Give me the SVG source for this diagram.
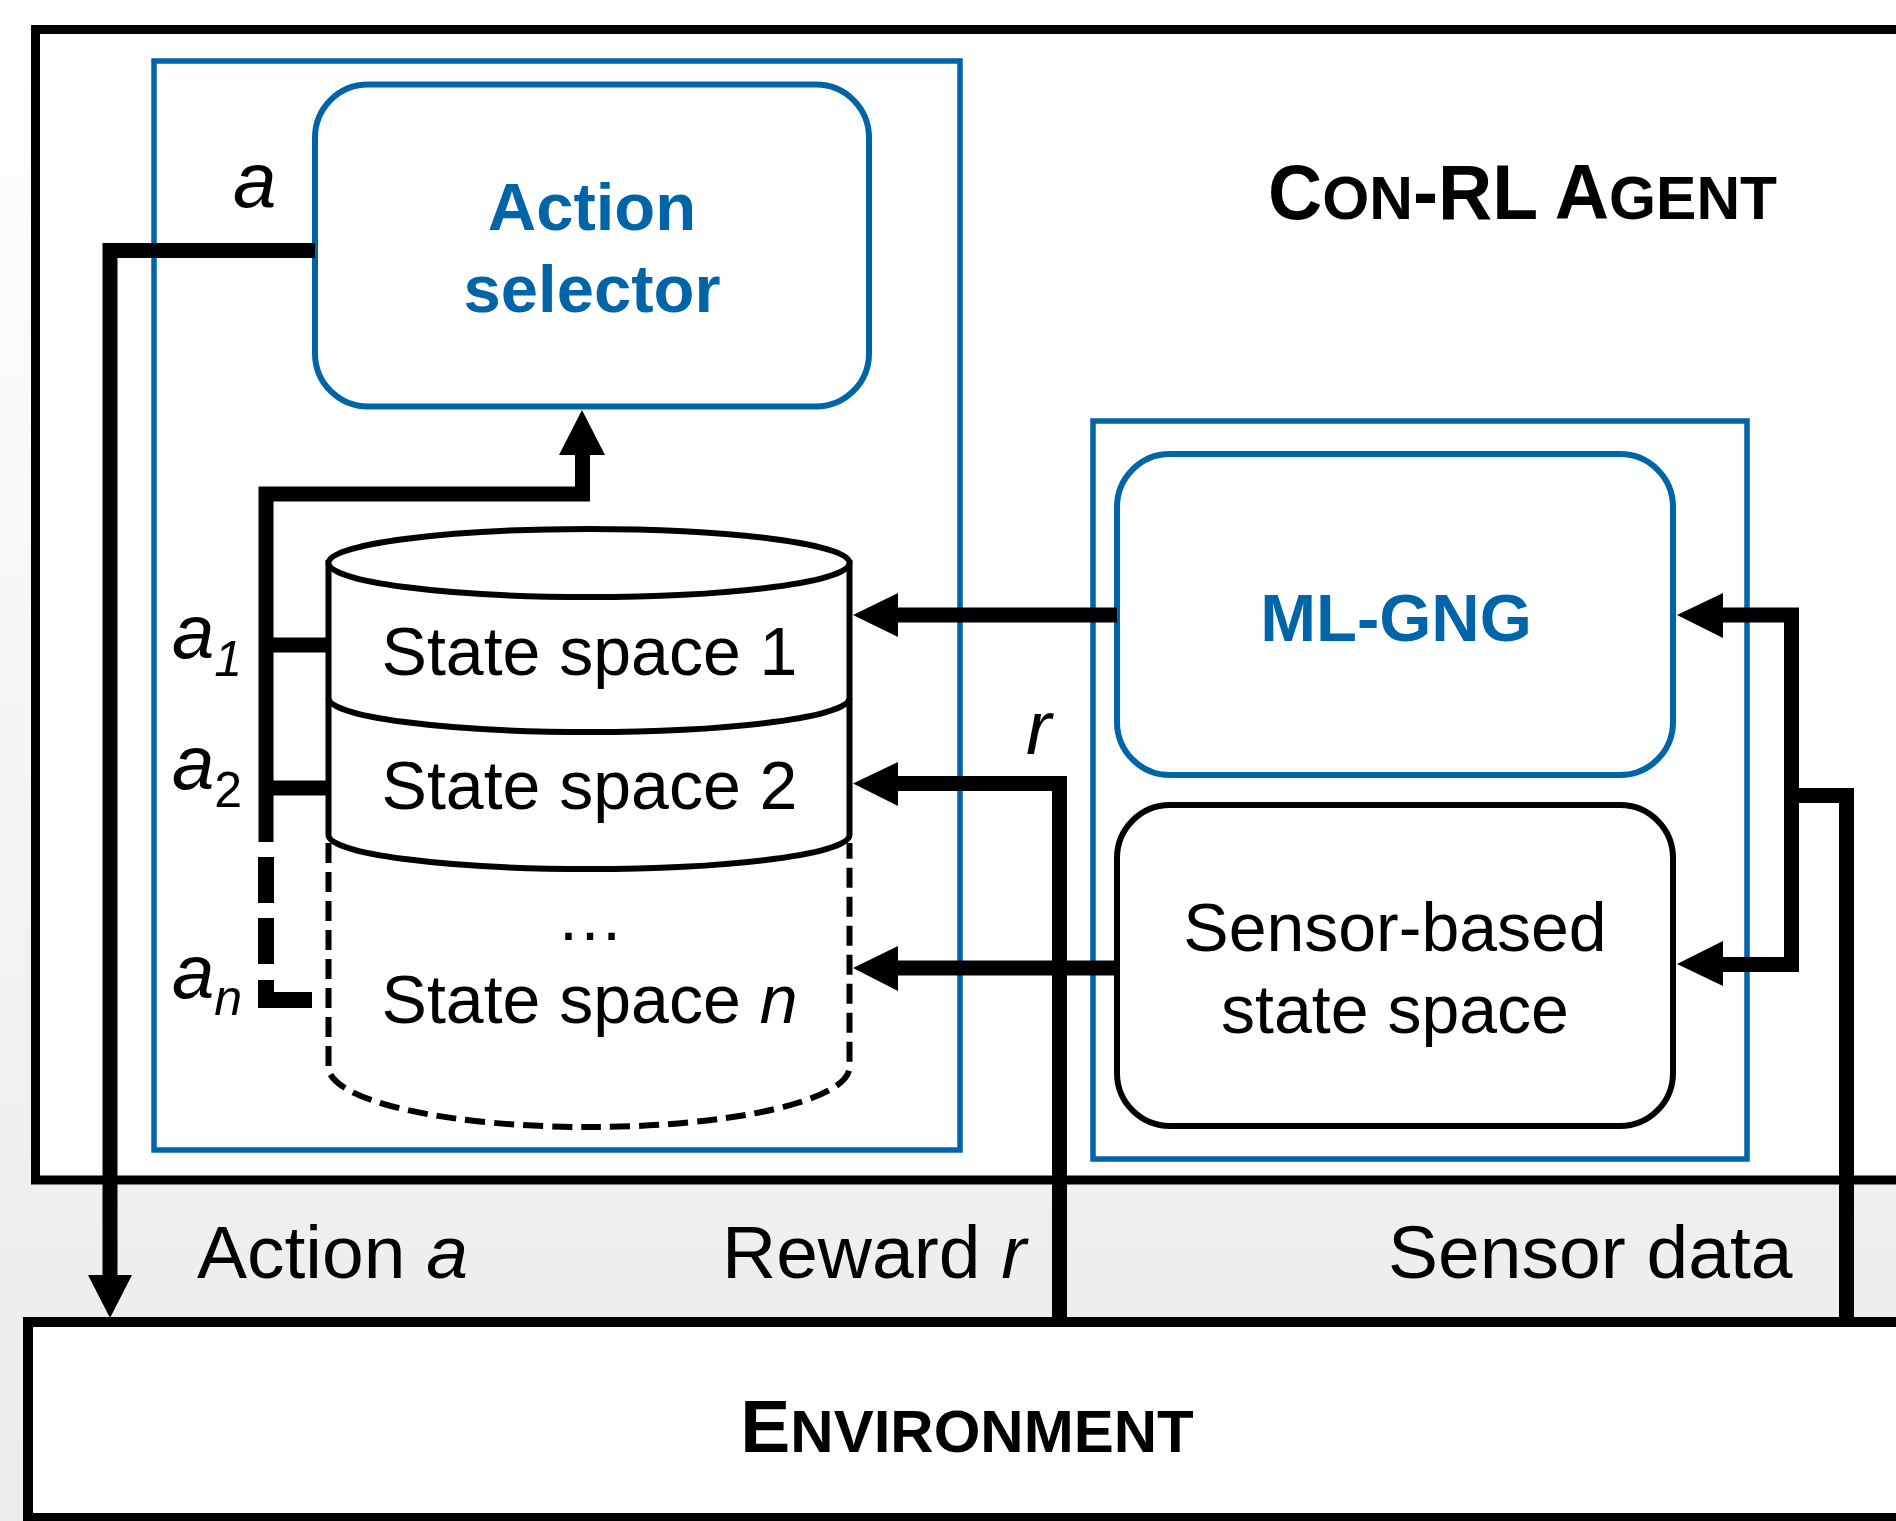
<svg xmlns="http://www.w3.org/2000/svg" width="1896" height="1521" viewBox="0 0 1896 1521">
  <defs>
    <linearGradient id="bg" x1="0" y1="0" x2="0" y2="1">
      <stop offset="0" stop-color="#ffffff"/>
      <stop offset="0.3" stop-color="#f9f9f9"/>
      <stop offset="0.8" stop-color="#efefef"/>
      <stop offset="1" stop-color="#ececec"/>
    </linearGradient>
    <style>
      text { font-family: "Liberation Sans", Arial, sans-serif; }
      .frame { fill: #ffffff; stroke: #000000; stroke-width: 10; }
      .blue { fill: none; stroke: #0064a8; stroke-width: 5.5; }
      .bnode { fill: #ffffff; stroke: #0064a8; stroke-width: 6; }
      .knode { fill: #ffffff; stroke: #000000; stroke-width: 6; }
      .wire { fill: none; stroke: #000000; stroke-width: 15; stroke-linejoin: miter; stroke-linecap: butt; }
      .head { fill: #000000; stroke: none; }
      .cyl { fill: #ffffff; stroke: #000000; stroke-width: 6; }
      .cyld { fill: none; stroke: #000000; stroke-width: 6; stroke-dasharray: 20 9; }
      .lbl { font-size: 68px; fill: #000000; }
      .big { font-size: 75px; fill: #000000; }
      .bt { font-size: 67px; font-weight: bold; fill: #0064a8; text-anchor: middle; }
      .it { font-style: italic; }
    </style>
  </defs>

  <rect x="0" y="0" width="1896" height="1521" fill="url(#bg)"/>

  <!-- Agent frame -->
  <g id="agent">
    <rect class="frame" x="35.5" y="29.5" width="1900" height="1150.5" style="stroke-width:9"/>
    <text x="1268" y="219" font-weight="bold" font-size="77" textLength="509" lengthAdjust="spacingAndGlyphs"><tspan>C</tspan><tspan font-size="62">ON</tspan>-RL <tspan>A</tspan><tspan font-size="62">GENT</tspan></text>
  </g>

  <!-- Environment -->
  <g id="environment">
    <rect class="frame" x="28" y="1322" width="1900" height="196"/>
    <text x="967" y="1452" font-weight="bold" font-size="75" text-anchor="middle"><tspan>E</tspan><tspan font-size="60">NVIRONMENT</tspan></text>
  </g>

  <!-- Module containers -->
  <g id="action-module">
    <rect class="blue" x="154" y="61" width="806" height="1089"/>
  </g>
  <g id="state-module">
    <rect class="blue" x="1093" y="421" width="654" height="738"/>
  </g>

  <!-- Action selector -->
  <g id="action-selector">
    <rect class="bnode" x="315" y="84.5" width="554" height="322" rx="53" ry="53"/>
    <text class="bt" x="592" y="230">Action</text>
    <text class="bt" x="592" y="312">selector</text>
  </g>

  <!-- State space cylinder -->
  <g id="state-spaces">
    <path class="cyld" d="M328.5,843 V1067 A260.5,60 0 0 0 849.5,1067 V843"/>
    <path class="cyl" d="M328.5,563 V835 A260.5,34 0 0 0 849.5,835 V563 Z"/>
    <ellipse class="cyl" cx="589" cy="563" rx="260.5" ry="34"/>
    <path class="cyl" style="fill:none" d="M328.5,698 A260.5,34 0 0 0 849.5,698"/>
    <text class="lbl" x="381.6" y="675">State space 1</text>
    <text class="lbl" x="381.6" y="809">State space 2</text>
    <text class="lbl" x="590" y="940" text-anchor="middle">…</text>
    <text class="lbl" x="381.6" y="1023">State space <tspan class="it">n</tspan></text>
  </g>

  <!-- ML-GNG -->
  <g id="ml-gng">
    <rect class="bnode" x="1117" y="454" width="556" height="321" rx="53" ry="53"/>
    <text class="bt" x="1396" y="641" font-size="68">ML-GNG</text>
  </g>

  <!-- Sensor-based state space -->
  <g id="sensor-state-space">
    <rect class="knode" x="1117" y="805" width="556" height="321" rx="53" ry="53"/>
    <text class="lbl" x="1395" y="951" text-anchor="middle">Sensor-based</text>
    <text class="lbl" x="1395" y="1033" text-anchor="middle">state space</text>
  </g>

  <!-- Connectors -->
  <g id="connectors">
    <!-- action a to environment -->
    <path class="wire" d="M315,250.5 H110 V1276"/>
    <polygon class="head" points="88,1275 132,1275 110,1318"/>
    <!-- a1..an to action selector -->
    <path class="wire" d="M266,842 V494 H582.5 V454"/>
    <polygon class="head" points="559,455 605,455 582,410"/>
    <path class="wire" d="M266,645 H328"/>
    <path class="wire" d="M266,788 H328"/>
    <path class="wire" style="stroke-width:16;stroke-dasharray:46 15" d="M266,857 V964"/>
    <path class="wire" style="stroke-width:16" d="M266,980 V1000 H312"/>
    <!-- ML-GNG to state space 1 -->
    <path class="wire" d="M1117,615 H896"/>
    <polygon class="head" points="853,615 898,593 898,637"/>
    <!-- reward to state space 2 -->
    <path class="wire" d="M1059.5,1322 V783.5 H896"/>
    <polygon class="head" points="853,783.5 898,762 898,806"/>
    <!-- sensor-based to state space n -->
    <path class="wire" d="M1117,968 H896"/>
    <polygon class="head" points="853,968 898,946 898,991"/>
    <!-- sensor data -->
    <path class="wire" d="M1846.5,1322 V795.5 H1791.5"/>
    <path class="wire" d="M1721,615 H1791.5 V964.5 H1721"/>
    <polygon class="head" points="1677,615 1723,593 1723,638"/>
    <polygon class="head" points="1677,964 1723,941 1723,986"/>
  </g>

  <!-- Connector labels -->
  <g id="labels">
    <text class="it" x="233" y="207" font-size="78">a</text>
    <text class="it" x="172" y="658" font-size="76">a<tspan dy="18" font-size="50">1</tspan></text>
    <text x="172" y="789" font-size="76"><tspan class="it">a</tspan><tspan dy="18" font-size="50">2</tspan></text>
    <text class="it" x="172" y="998" font-size="76">a<tspan dy="17" font-size="50">n</tspan></text>
    <text class="it" x="1026" y="754" font-size="76">r</text>
    <text class="big" x="197" y="1278">Action <tspan class="it">a</tspan></text>
    <text class="big" x="722" y="1278">Reward <tspan class="it">r</tspan></text>
    <text class="big" x="1388" y="1278">Sensor data</text>
  </g>
</svg>
